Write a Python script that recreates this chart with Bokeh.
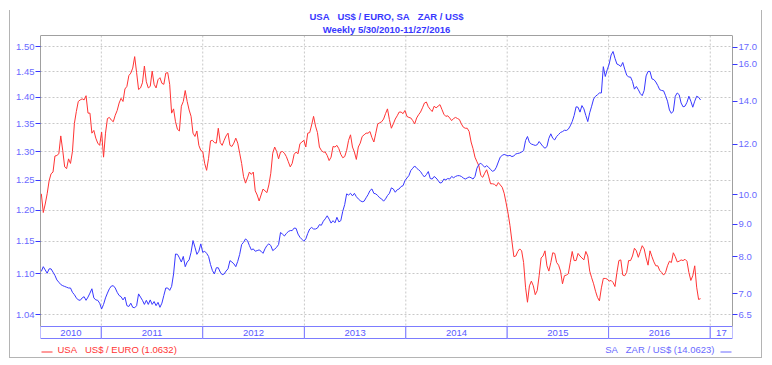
import math
import pandas as pd
from bokeh.plotting import figure
from bokeh.models import (Range1d, LogScale, LinearScale, LogAxis, FixedTicker,
                          PrintfTickFormatter, InlineStyleSheet)
from bokeh.core.properties import value
from bokeh.embed import file_html
from bokeh.resources import INLINE

# ---------------- data ----------------
start_date = "2010-05-30"   # weekly observations, last one 2016-11-27

usd_euro = [
    1.227, 1.196, 1.210, 1.227, 1.249, 1.261, 1.264, 1.292, 1.293, 1.296,
    1.328, 1.302, 1.273, 1.270, 1.287, 1.279, 1.300, 1.351, 1.373, 1.392,
    1.395, 1.397, 1.395, 1.403, 1.370, 1.370, 1.333, 1.338, 1.324, 1.315,
    1.311, 1.335, 1.290, 1.333, 1.360, 1.362, 1.357, 1.354, 1.366, 1.375,
    1.389, 1.398, 1.392, 1.416, 1.421, 1.442, 1.447, 1.457, 1.480, 1.448,
    1.415, 1.418, 1.428, 1.461, 1.430, 1.418, 1.421, 1.451, 1.425, 1.418,
    1.434, 1.438, 1.427, 1.425, 1.447, 1.448, 1.425, 1.370, 1.378, 1.354,
    1.340, 1.337, 1.383, 1.392, 1.413, 1.392, 1.376, 1.364, 1.333, 1.327,
    1.337, 1.311, 1.302, 1.300, 1.279, 1.267, 1.288, 1.319, 1.320, 1.316,
    1.315, 1.342, 1.316, 1.311, 1.320, 1.328, 1.333, 1.311, 1.309, 1.315,
    1.324, 1.315, 1.297, 1.279, 1.256, 1.245, 1.254, 1.264, 1.260, 1.264,
    1.232, 1.225, 1.215, 1.225, 1.235, 1.232, 1.229, 1.242, 1.262, 1.297,
    1.308, 1.300, 1.287, 1.299, 1.300, 1.297, 1.291, 1.282, 1.273, 1.279,
    1.295, 1.299, 1.296, 1.314, 1.317, 1.320, 1.308, 1.333, 1.334, 1.348,
    1.364, 1.346, 1.334, 1.308, 1.302, 1.299, 1.299, 1.293, 1.284, 1.290,
    1.309, 1.308, 1.311, 1.305, 1.295, 1.289, 1.291, 1.302, 1.320, 1.330,
    1.308, 1.299, 1.286, 1.308, 1.315, 1.327, 1.330, 1.333, 1.333, 1.336,
    1.325, 1.317, 1.333, 1.350, 1.352, 1.354, 1.359, 1.369, 1.378, 1.358,
    1.342, 1.350, 1.359, 1.365, 1.372, 1.372, 1.369, 1.375, 1.364, 1.362,
    1.361, 1.356, 1.350, 1.361, 1.367, 1.372, 1.380, 1.389, 1.391, 1.382,
    1.377, 1.373, 1.383, 1.380, 1.383, 1.386, 1.377, 1.368, 1.364, 1.365,
    1.361, 1.356, 1.360, 1.362, 1.360, 1.358, 1.350, 1.344, 1.342, 1.342,
    1.336, 1.317, 1.305, 1.290, 1.282, 1.275, 1.258, 1.255, 1.262, 1.268,
    1.257, 1.244, 1.244, 1.243, 1.240, 1.246, 1.242, 1.238, 1.228, 1.212,
    1.195, 1.175, 1.150, 1.126, 1.127, 1.134, 1.138, 1.135, 1.117, 1.080,
    1.058, 1.082, 1.089, 1.082, 1.069, 1.075, 1.097, 1.124, 1.127, 1.135,
    1.112, 1.104, 1.117, 1.132, 1.131, 1.117, 1.113, 1.104, 1.085, 1.097,
    1.098, 1.100, 1.117, 1.134, 1.120, 1.120, 1.131, 1.127, 1.124, 1.121,
    1.134, 1.127, 1.104, 1.094, 1.085, 1.074, 1.065, 1.060, 1.079, 1.093,
    1.093, 1.092, 1.089, 1.090, 1.087, 1.081, 1.102, 1.120, 1.121, 1.098,
    1.097, 1.102, 1.120, 1.120, 1.127, 1.139, 1.135, 1.125, 1.134, 1.143,
    1.138, 1.124, 1.113, 1.135, 1.126, 1.118, 1.112, 1.112, 1.105, 1.102,
    1.098, 1.102, 1.112, 1.119, 1.117, 1.132, 1.126, 1.118, 1.119, 1.121,
    1.120, 1.122, 1.119, 1.102, 1.090, 1.097, 1.112, 1.080, 1.062, 1.0632,
]

zar_usd = [
    7.59, 7.72, 7.63, 7.54, 7.66, 7.66, 7.57, 7.48, 7.36, 7.30,
    7.24, 7.21, 7.19, 7.17, 7.15, 7.15, 7.04, 6.98, 6.90, 6.85,
    6.84, 6.90, 6.93, 6.84, 6.92, 7.02, 7.13, 6.90, 6.85, 6.84,
    6.77, 6.63, 6.74, 6.90, 7.02, 7.13, 7.20, 7.21, 7.15, 7.04,
    6.96, 6.93, 6.85, 6.92, 6.71, 6.69, 6.77, 6.67, 6.66, 6.71,
    7.00, 6.92, 6.84, 6.74, 6.84, 6.74, 6.85, 6.74, 6.81, 6.71,
    6.79, 6.67, 6.77, 6.96, 7.15, 7.15, 7.09, 7.19, 7.52, 8.08,
    8.07, 7.97, 7.85, 8.01, 7.72, 7.85, 7.91, 8.13, 8.48, 8.28,
    8.07, 8.16, 8.38, 8.13, 8.16, 8.10, 8.01, 7.78, 7.61, 7.52,
    7.69, 7.69, 7.57, 7.50, 7.52, 7.60, 7.66, 7.89, 7.85, 7.80,
    7.72, 7.87, 8.07, 8.36, 8.43, 8.53, 8.48, 8.33, 8.20, 8.23,
    8.16, 8.18, 8.20, 8.16, 8.10, 8.23, 8.33, 8.38, 8.33, 8.18,
    8.22, 8.28, 8.36, 8.73, 8.68, 8.62, 8.70, 8.76, 8.79, 8.79,
    8.87, 8.86, 8.68, 8.58, 8.52, 8.46, 8.53, 8.70, 8.84, 8.89,
    8.84, 8.84, 8.87, 8.98, 8.96, 9.09, 9.17, 9.27, 9.16, 9.03,
    9.11, 9.04, 9.22, 9.07, 9.11, 9.42, 9.65, 10.03, 9.99, 10.05,
    9.96, 10.05, 9.93, 9.85, 9.79, 9.75, 9.77, 9.89, 10.00, 10.15,
    10.21, 10.05, 10.03, 9.97, 9.89, 9.85, 9.77, 9.85, 9.97, 10.05,
    10.25, 10.21, 10.09, 10.18, 10.21, 10.30, 10.33, 10.52, 10.62, 10.71,
    10.91, 11.00, 11.09, 11.00, 10.94, 10.87, 10.75, 10.66, 10.75, 10.87,
    10.60, 10.58, 10.68, 10.62, 10.53, 10.43, 10.45, 10.58, 10.55, 10.60,
    10.58, 10.68, 10.63, 10.68, 10.71, 10.71, 10.68, 10.62, 10.58, 10.62,
    10.66, 10.63, 10.58, 10.68, 11.00, 11.15, 11.20, 11.12, 11.04, 11.10,
    11.04, 10.95, 10.88, 10.91, 11.04, 11.25, 11.45, 11.52, 11.56, 11.53,
    11.50, 11.52, 11.47, 11.50, 11.58, 11.60, 11.62, 11.66, 11.72, 12.15,
    12.33, 12.07, 12.00, 11.97, 11.94, 11.97, 12.11, 12.00, 11.89, 11.82,
    11.89, 12.25, 12.45, 12.25, 12.18, 12.33, 12.42, 12.51, 12.55, 12.61,
    12.60, 12.66, 12.81, 13.01, 13.30, 13.72, 13.70, 13.46, 13.78, 13.62,
    13.30, 13.01, 13.43, 13.75, 14.11, 14.25, 14.33, 14.42, 14.42, 15.85,
    15.30, 15.67, 16.00, 16.53, 16.74, 16.33, 16.00, 15.95, 15.86, 16.09,
    15.71, 15.38, 15.27, 15.27, 15.03, 14.62, 14.76, 14.59, 14.39, 14.28,
    14.55, 15.33, 15.58, 15.58, 15.17, 15.13, 15.00, 14.81, 14.59, 14.55,
    14.53, 14.28, 14.00, 13.56, 13.40, 13.51, 14.25, 14.42, 14.33, 13.91,
    13.72, 13.75, 13.94, 14.25, 14.00, 13.70, 14.00, 14.25, 14.20, 14.0623,
]

euro_ticks = [1.04, 1.10, 1.15, 1.20, 1.25, 1.30, 1.35, 1.40, 1.45, 1.50]
zar_ticks = [6.5, 7.0, 8.0, 9.0, 10.0, 12.0, 14.0, 16.0, 17.0]
year_labels = ["2010", "2011", "2012", "2013", "2014", "2015", "2016", "17"]
year_starts = ["2011-01-01", "2012-01-01", "2013-01-01", "2014-01-01",
               "2015-01-01", "2016-01-01", "2017-01-01"]

GAP = "\u00a0\u00a0\u00a0"   # wide gap, kept by the SVG text
title_1 = "USA" + GAP + "US$ / EURO, SA" + GAP + "ZAR / US$"
title_2 = "Weekly 5/30/2010-11/27/2016"
legend_left = "USA" + GAP + "US$ / EURO (1.0632)"
legend_right = "SA" + GAP + "ZAR / US$ (14.0623)"

# ---------------- layout (canvas pixels) ----------------
FONT = "Liberation Sans"
RED = "#ff3434"
BLUE = "#3838ff"
LBLUE = "#6a6aff"
GRIDC = "#c8c8c8"
BORDER = "#a0a0a0"

W, H = 772, 365
FL, FR = 40, 732          # plot left / right edge
PT, PB = 35, 326          # plot top / bottom edge
BB = 338                  # bottom of the year band


def log_range(v_hi, y_hi, v_lo, y_lo):
    """log range over the whole canvas height, given two value/pixel anchors"""
    k = (math.log(v_hi) - math.log(v_lo)) / (y_lo - y_hi)
    at = lambda y: math.exp(math.log(v_hi) - (y - y_hi) * k)
    return at(H), at(0), at


e_bot, e_top, e_at = log_range(1.50, 46.3, 1.04, 314.3)
z_bot, z_top, z_at = log_range(17.0, 46.7, 6.5, 314.0)

dates = pd.date_range(start_date, periods=len(usd_euro), freq="7D")
x_start = pd.Timestamp("2010-05-27")
x_end = pd.Timestamp("2017-03-22")
bounds = [pd.Timestamp(d) for d in year_starts]

p = figure(width=W, height=H, output_backend="svg", toolbar_location=None,
           x_axis_type="datetime", y_axis_type="log", x_axis_location=None,
           x_range=Range1d(x_start, x_end), y_range=Range1d(e_bot, e_top),
           min_border_left=FL, min_border_right=W - FR, min_border_top=0,
           min_border_bottom=0)
p.extra_y_ranges = {"zar": Range1d(z_bot, z_top), "px": Range1d(H, 0)}
p.extra_y_scales = {"zar": LogScale(), "px": LinearScale()}
p.extra_x_ranges = {"px": Range1d(FL, FR)}
p.extra_x_scales = {"px": LinearScale()}

p.background_fill_color = "white"
p.border_fill_color = "white"
p.outline_line_color = None
p.stylesheets = [InlineStyleSheet(css=(
    ":host{position:relative;}"
    ":host::after{content:'';position:absolute;left:9px;top:10px;width:753px;"
    "height:348px;box-sizing:border-box;border:1px solid #b4b4b4;border-top:0;"
    "pointer-events:none;}"))]

# horizontal grid from the left axis ticks
p.xgrid.grid_line_color = None
p.ygrid.ticker = FixedTicker(ticks=euro_ticks)
p.ygrid.grid_line_color = GRIDC
p.ygrid.grid_line_dash = "2 2"

# vertical grid at year boundaries, only over the plot area
p.segment(x0=bounds, x1=bounds, y0=[PT] * len(bounds), y1=[PB] * len(bounds),
          y_range_name="px", line_color=GRIDC, line_dash="2 2", line_width=1)

# axes
la = p.yaxis[0]
la.ticker = FixedTicker(ticks=euro_ticks)
la.formatter = PrintfTickFormatter(format="%.2f")
la.bounds = (e_at(PB), e_at(PT))

ra = LogAxis(y_range_name="zar", ticker=FixedTicker(ticks=zar_ticks),
             formatter=PrintfTickFormatter(format="%.1f"),
             bounds=(z_at(PB), z_at(PT)))
p.add_layout(ra, "right")

for ax in (la, ra):
    ax.axis_line_color = BORDER
    ax.major_tick_out = 5
    ax.major_tick_in = 0
    ax.minor_tick_out = 0
    ax.minor_tick_in = 0
    ax.major_tick_line_color = BLUE
    ax.major_label_text_color = LBLUE
    ax.major_label_text_font = FONT
    ax.major_label_text_font_size = "9.5px"
    ax.major_label_standoff = 1

# top border of the plot area
p.segment(x0=[FL], x1=[FR], y0=[PT], y1=[PT], x_range_name="px",
          y_range_name="px", line_color=BORDER, line_width=1)

# year band
left_edges = [x_start] + bounds
right_edges = bounds + [x_end]
centers = [l + (r - l) / 2 for l, r in zip(left_edges, right_edges)]
p.quad(left=left_edges, right=right_edges, bottom=BB, top=PB,
       y_range_name="px", fill_color="white", line_color="#7c7cff",
       line_width=1)
p.text(x=centers, y=[(PB + BB) / 2] * len(centers), text=year_labels,
       y_range_name="px", text_align="center", text_baseline="middle",
       text_color="#5a5aff", text_font=value(FONT), text_font_size="9.5px")

# series
p.line(dates, usd_euro, line_color=RED, line_width=1)
p.line(dates, zar_usd, line_color=BLUE, line_width=1, y_range_name="zar")

# titles
p.text(x=[(FL + FR) / 2] * 2, y=[16, 28.5], text=[title_1, title_2],
       x_range_name="px", y_range_name="px", text_align="center",
       text_baseline="middle", text_color=BLUE, text_font=value(FONT),
       text_font_size="9.5px", text_font_style="bold")

# legend texts with their line samples
p.text(x=[57], y=[348.5], text=[legend_left], x_range_name="px", y_range_name="px",
       text_align="left", text_baseline="middle", text_color=RED,
       text_font=value(FONT), text_font_size="9.5px")
p.text(x=[714], y=[348.5], text=[legend_right], x_range_name="px",
       y_range_name="px", text_align="right", text_baseline="middle",
       text_color=LBLUE, text_font=value(FONT), text_font_size="9.5px")
p.segment(x0=[41, 720], x1=[52, 731], y0=[351.5, 351.5], y1=[351.5, 351.5],
          x_range_name="px", y_range_name="px", line_color=[RED, LBLUE],
          line_width=1)

open("out.html", "w").write(file_html(p, INLINE))
